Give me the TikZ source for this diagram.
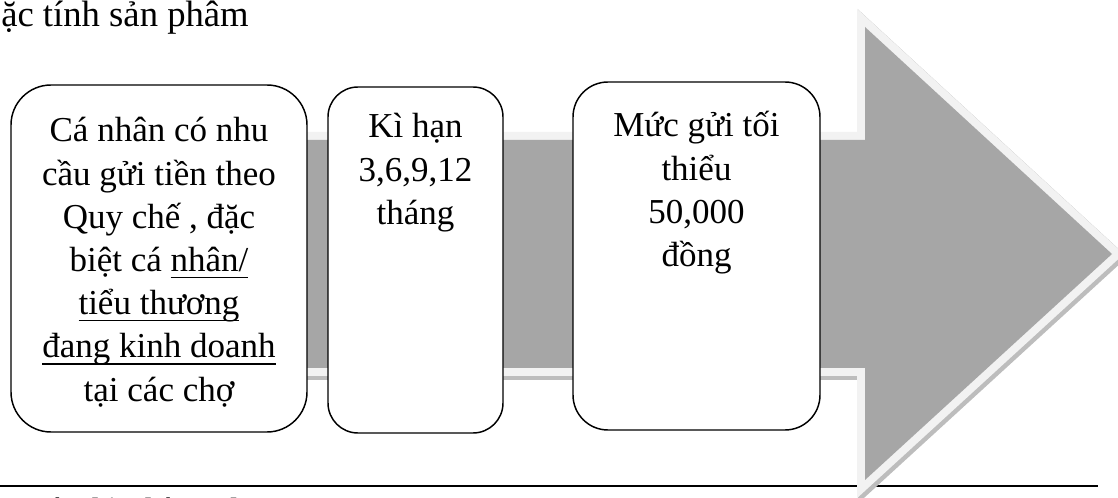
\documentclass[tikz,border=0pt]{standalone}
\usepackage{fontspec}
\setmainfont{Liberation Serif}
\newcommand{\myuline}[1]{{\setbox0\hbox{#1}\rlap{\rule[-5pt]{\wd0}{1pt}}\box0}}
\definecolor{arrowgray}{HTML}{A6A6A6}
\definecolor{rimwhite}{HTML}{F2F2F2}
\definecolor{rimshadow}{HTML}{BDBDBD}
\tikzset{
  box/.style={draw=black, line width=1.1pt, fill=white, inner sep=0pt},
  boxtext/.style={anchor=base, inner sep=0pt, font=\fontsize{26.25pt}{32.4pt}\selectfont},
}
\begin{document}
\begin{tikzpicture}[x=0.75pt, y=-0.75pt]
\useasboundingbox (0,0) rectangle (1118,498);
% title
\node[anchor=base west, inner sep=0pt, font=\fontsize{27.5pt}{33pt}\selectfont] (title) at (1,27) {ặc tính sản phâm};
% footer rule and footer text (cut by the page edge)
\coordinate (fl) at (0,486);
\coordinate (fr) at (1098,486);
\draw[line width=1.1pt] (fl) -- (fr);
\node[anchor=base west, inner sep=0pt, font=\fontsize{22pt}{26pt}\selectfont\bfseries] (foot) at (14,519) {Ngô Thị Nhật Anh – 37A09T};
\node[anchor=base east, inner sep=0pt, font=\fontsize{21pt}{25pt}\selectfont] (pnum) at (1092,519) {43};
% big arrow
\def\arrowpath{(100,140) -- (865,140) -- (865,27) -- (1112,254) -- (865,480) -- (865,368) -- (100,368) -- cycle}
\draw[rimshadow, line width=13.5pt, shift={(2,3)}] \arrowpath;
\draw[rimwhite, line width=12pt] \arrowpath;
\fill[arrowgray] \arrowpath;
% boxes
\node[box, rounded corners=30pt, minimum width=222pt, minimum height=260.25pt] (b1) at (159,258.5) {};
\node[box, rounded corners=22.5pt, minimum width=131.25pt, minimum height=259.5pt] (b2) at (415.5,260) {};
\node[box, rounded corners=26.25pt, minimum width=185.25pt, minimum height=261pt] (b3) at (696.5,256) {};
% texts
\node[boxtext] (t1) at (159,142) {\begin{tabular}[t]{@{}c@{}}Cá nhân có nhu\\cầu gửi tiền theo\\Quy chế , đặc\\biệt cá \myuline{nhân/}\\\myuline{tiểu thương}\\\myuline{đang kinh doanh}\\tại các chợ\end{tabular}};
\node[boxtext] (t2) at (415.5,138) {\begin{tabular}[t]{@{}c@{}}Kì hạn\\3,6,9,12\\tháng\end{tabular}};
\node[boxtext] (t3) at (696.5,137) {\begin{tabular}[t]{@{}c@{}}Mức gửi tối\\thiểu\\50,000\\đồng\end{tabular}};
\end{tikzpicture}
\end{document}
